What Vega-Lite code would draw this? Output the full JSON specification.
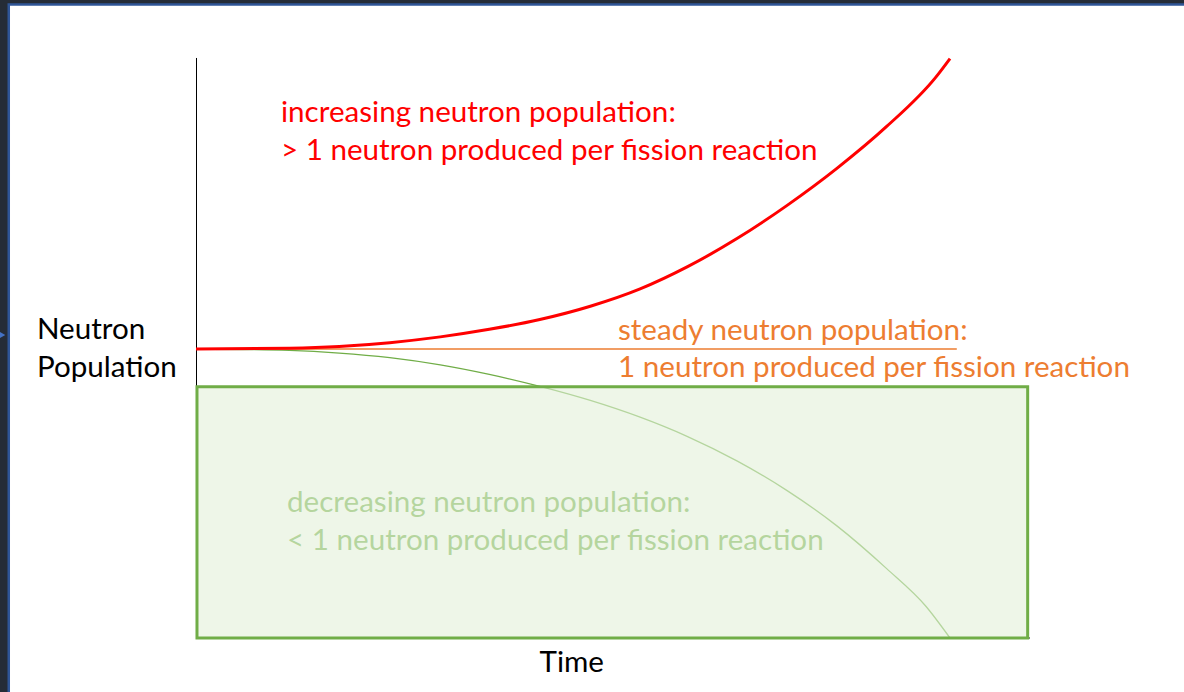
{
  "$schema": "https://vega.github.io/schema/vega-lite/v6.json",
  "width": 1184,
  "height": 692,
  "autosize": {"type": "none"},
  "padding": 0,
  "background": "#252c37",
  "config": {"view": {"stroke": null}},
  "data": {"values": [{"t": 0, "P": 0}]},
  "datasets": {
    "curves": [
      {"series": "increasing", "t": 0, "P": 1.0},
      {"series": "increasing", "t": 1.24, "P": 1.003},
      {"series": "increasing", "t": 1.9, "P": 1.009},
      {"series": "increasing", "t": 2.57, "P": 1.022},
      {"series": "increasing", "t": 3.24, "P": 1.042},
      {"series": "increasing", "t": 3.89, "P": 1.068},
      {"series": "increasing", "t": 4.56, "P": 1.102},
      {"series": "increasing", "t": 5.23, "P": 1.148},
      {"series": "increasing", "t": 5.89, "P": 1.208},
      {"series": "increasing", "t": 6.52, "P": 1.285},
      {"series": "increasing", "t": 7.18, "P": 1.383},
      {"series": "increasing", "t": 7.84, "P": 1.497},
      {"series": "increasing", "t": 8.5, "P": 1.625},
      {"series": "increasing", "t": 9.16, "P": 1.77},
      {"series": "increasing", "t": 9.81, "P": 1.94},
      {"series": "increasing", "t": 10, "P": 2.005},
      {"series": "steady", "t": 0, "P": 1.0},
      {"series": "steady", "t": 10.09, "P": 1.0},
      {"series": "decreasing", "t": 0, "P": 1.0},
      {"series": "decreasing", "t": 1.24, "P": 0.995},
      {"series": "decreasing", "t": 1.9, "P": 0.986},
      {"series": "decreasing", "t": 2.57, "P": 0.97},
      {"series": "decreasing", "t": 3.24, "P": 0.945},
      {"series": "decreasing", "t": 3.89, "P": 0.912},
      {"series": "decreasing", "t": 4.6, "P": 0.868},
      {"series": "decreasing", "t": 5.23, "P": 0.822},
      {"series": "decreasing", "t": 5.89, "P": 0.764},
      {"series": "decreasing", "t": 6.52, "P": 0.697},
      {"series": "decreasing", "t": 7.18, "P": 0.612},
      {"series": "decreasing", "t": 7.84, "P": 0.51},
      {"series": "decreasing", "t": 8.5, "P": 0.388},
      {"series": "decreasing", "t": 9.16, "P": 0.24},
      {"series": "decreasing", "t": 9.68, "P": 0.11},
      {"series": "decreasing", "t": 10, "P": 0.0}
    ],
    "labels": [
      {"series": "increasing", "text": "increasing neutron population:", "t": 1.127, "P": 1.7865},
      {"series": "increasing", "text": "> 1 neutron produced per fission reaction", "t": 1.127, "P": 1.654},
      {"series": "steady", "text": "steady neutron population:", "t": 5.597, "P": 1.0311},
      {"series": "steady", "text": "1 neutron produced per fission reaction", "t": 5.597, "P": 0.9031},
      {"series": "decreasing", "text": "decreasing neutron population:", "t": 1.207, "P": 0.437},
      {"series": "decreasing", "text": "< 1 neutron produced per fission reaction", "t": 1.207, "P": 0.3045},
      {"series": "axis", "text": "Neutron", "t": -2.109, "P": 1.0336},
      {"series": "axis", "text": "Population", "t": -2.109, "P": 0.9042},
      {"series": "axis", "text": "Time", "t": 4.556, "P": -0.1166}
    ]
  },
  "encoding": {
    "x": {"field": "t", "type": "quantitative", "scale": {"domain": [-2.5995, 13.1034], "nice": false, "zero": false}, "axis": null},
    "y": {"field": "P", "type": "quantitative", "scale": {"domain": [-0.18685, 2.20761], "nice": false, "zero": false}, "axis": null}
  },
  "layer": [
    {
      "mark": {"type": "rect", "fill": "white", "stroke": "#2f5597", "strokeWidth": 2.5},
      "encoding": {
        "x": {"datum": -2.4834, "type": "quantitative"},
        "x2": {"datum": 14},
        "y": {"datum": 2.192, "type": "quantitative"},
        "y2": {"datum": -0.3}
      }
    },
    {
      "mark": {"type": "point", "shape": "triangle-right", "filled": true, "fill": "#4472c4", "opacity": 1, "size": 520},
      "encoding": {
        "x": {"datum": -2.66, "type": "quantitative"},
        "y": {"datum": 1.0484, "type": "quantitative"}
      }
    },
    {
      "mark": {"type": "rule", "color": "black", "strokeWidth": 1},
      "encoding": {
        "x": {"datum": 0.0066, "type": "quantitative"},
        "y": {"datum": 0, "type": "quantitative"},
        "y2": {"datum": 2.007}
      }
    },
    {
      "mark": {"type": "rule", "color": "black", "strokeWidth": 1},
      "encoding": {
        "y": {"datum": 0, "type": "quantitative"},
        "x": {"datum": 0, "type": "quantitative"},
        "x2": {"datum": 11.06}
      }
    },
    {
      "data": {"name": "curves"},
      "transform": [{"filter": "datum.series === 'decreasing'"}],
      "mark": {"type": "line", "color": "#70ad47", "strokeWidth": 1.3, "interpolate": "monotone"}
    },
    {
      "data": {"name": "labels"},
      "transform": [{"filter": "datum.series === 'decreasing'"}],
      "mark": {"type": "text", "align": "left", "baseline": "alphabetic", "font": "Lato", "fontSize": 29.6, "color": "#70ad47"},
      "encoding": {"text": {"field": "text"}}
    },
    {
      "mark": {"type": "rect", "fill": "#e2f0d9", "fillOpacity": 0.6, "stroke": "#70ad47", "strokeWidth": 3},
      "encoding": {
        "x": {"datum": 0.013, "type": "quantitative"},
        "x2": {"datum": 11.03},
        "y": {"datum": 0.869, "type": "quantitative"},
        "y2": {"datum": 0}
      }
    },
    {
      "data": {"name": "curves"},
      "transform": [{"filter": "datum.series === 'steady'"}],
      "mark": {"type": "line", "color": "#ed7d31", "strokeWidth": 1.5}
    },
    {
      "data": {"name": "curves"},
      "transform": [{"filter": "datum.series === 'increasing'"}],
      "mark": {"type": "line", "color": "#ff0000", "strokeWidth": 3, "interpolate": "monotone"}
    },
    {
      "data": {"name": "labels"},
      "transform": [{"filter": "datum.series !== 'decreasing'"}],
      "mark": {"type": "text", "align": "left", "baseline": "alphabetic", "font": "Lato", "fontSize": 29.6},
      "encoding": {
        "text": {"field": "text"},
        "color": {"field": "series", "type": "nominal", "scale": {"domain": ["increasing", "steady", "axis"], "range": ["#ff0000", "#ed7d31", "#000000"]}, "legend": null}
      }
    }
  ]
}
